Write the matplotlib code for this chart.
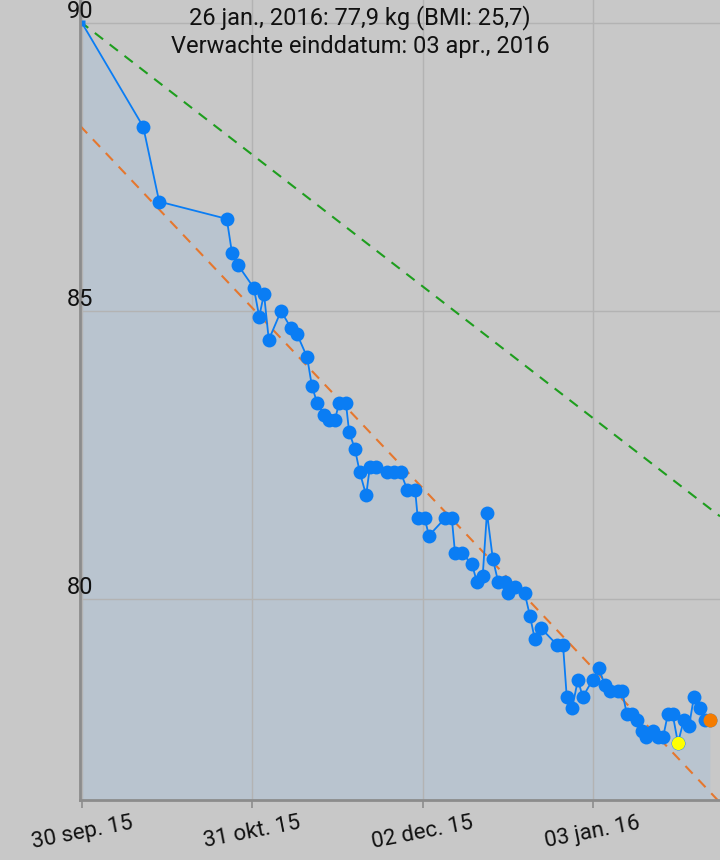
import matplotlib
matplotlib.use('Agg')
import matplotlib.pyplot as plt
import numpy as np

plt.rcParams['font.family'] = ['Roboto', 'DejaVu Sans']

# days after 30 sep 2015, weight in kg
days = [0.0, 11.5, 14.5, 27.2, 28.2, 29.3, 32.3, 33.3, 34.2, 35.1,
        37.4, 39.3, 40.4, 42.3, 43.2, 44.2, 45.5, 46.4, 47.5, 48.3,
        49.6, 50.2, 51.3, 52.2, 53.4, 54.1, 55.2, 57.3, 58.6, 59.9,
        61.1, 62.6, 63.1, 64.4, 65.2, 68.2, 69.5, 70.1, 71.4, 73.3,
        74.2, 75.3, 76.1, 77.2, 78.2, 79.5, 80.0, 81.4, 83.2, 84.2,
        85.1, 86.2, 89.3, 90.4, 91.1, 92.1, 93.2, 94.1, 96.0, 97.1,
        98.3, 99.2, 100.7, 101.5, 102.4, 103.3, 104.3, 105.2, 106.0, 107.3,
        108.2, 109.2, 110.1, 111.0, 112.0, 113.1, 114.1, 115.0, 116.1, 117.1,
        118.0]
weights = [90.0, 88.2, 86.9, 86.6, 86.0, 85.8, 85.4, 84.9, 85.3, 84.5,
           85.0, 84.7, 84.6, 84.2, 83.7, 83.4, 83.2, 83.1, 83.1, 83.4,
           83.4, 82.9, 82.6, 82.2, 81.8, 82.3, 82.3, 82.2, 82.2, 82.2,
           81.9, 81.9, 81.4, 81.4, 81.1, 81.4, 81.4, 80.8, 80.8, 80.6,
           80.3, 80.4, 81.5, 80.7, 80.3, 80.3, 80.1, 80.2, 80.1, 79.7,
           79.3, 79.5, 79.2, 79.2, 78.3, 78.1, 78.6, 78.3, 78.6, 78.8,
           78.5, 78.4, 78.4, 78.4, 78.0, 78.0, 77.9, 77.7, 77.6, 77.7,
           77.6, 77.6, 78.0, 78.0, 77.5, 77.9, 77.8, 78.3, 78.1, 77.9,
           77.9]

tick_days = [0, 32, 64, 96]
tick_labels = ['30 sep. 15', '31 okt. 15', '02 dec. 15', '03 jan. 16']
y_ticks = [80, 85, 90]

# goal line (0.5 kg per week) and trend line
goal_start, goal_rate = 90.0, 0.5 / 7
trend_start, trend_rate = 88.18, 0.0977

title1 = '26 jan., 2016: 77,9 kg (BMI: 25,7)'
title2 = 'Verwachte einddatum: 03 apr., 2016'

bg = '#c8c8c8'
blue = '#0a7df4'

fig = plt.figure(figsize=(7.2, 8.6), dpi=100)
fig.patch.set_facecolor(bg)
ax = fig.add_axes([80 / 720, 60 / 860, 640 / 720, 800 / 860])
ax.set_facecolor(bg)

xmin, xmax = -0.38, 119.9
ymin, ymax = 76.51, 90.40
ax.set_xlim(xmin, xmax)
ax.set_ylim(ymin, ymax)

ax.fill_between(days, weights, ymin, color='#b9c4cf', zorder=1, linewidth=0)

for t in tick_days:
    ax.axvline(t, color='#b3b3b3', lw=1, zorder=1.5)
for v in y_ticks:
    ax.axhline(v, color='#b3b3b3', lw=1, zorder=1.5)

xx = np.array([xmin, xmax])
ax.plot(xx, goal_start - goal_rate * xx, '--', color='#1e9e1e', lw=1.5,
        dashes=(5, 4), zorder=2)
ax.plot(xx, trend_start - trend_rate * xx, '--', color='#e5772e', lw=1.5,
        dashes=(5, 4), zorder=2)

ax.plot(days, weights, color=blue, lw=1.3, zorder=3)
ax.plot(days[1:], weights[1:], 'o', color=blue, ms=10, mec='none', zorder=4)
ax.plot(days[:1], weights[:1], 's', color=blue, ms=4, mec='none', zorder=4)

i_min = int(np.argmin(weights))
ax.plot(days[i_min], weights[i_min], 'o', color='#ffff00', ms=9.5, mec='none', zorder=5)
ax.plot(days[-1], weights[-1], 'o', color='#f57c00', ms=10, mec='none', zorder=5)

for s in ['top', 'right']:
    ax.spines[s].set_visible(False)
for s in ['left', 'bottom']:
    ax.spines[s].set_color('#8c8c8c')
    ax.spines[s].set_linewidth(2)
    ax.spines[s].set_zorder(6)

ax.set_xticks(tick_days)
ax.set_xticklabels(tick_labels, rotation=11, ha='center', fontsize=16, color='#111111')
ax.tick_params(axis='x', length=6, color='#8c8c8c', width=1.2, pad=3)
ax.set_yticks([])
for v in y_ticks:
    ax.text(0, v, str(v), transform=ax.get_yaxis_transform(), ha='center',
            va='bottom', fontsize=17, color='#111111', zorder=7)

fig.text(0.5, 1 - 18 / 860, title1, ha='center', va='center', fontsize=17, color='#111111')
fig.text(0.5, 1 - 47 / 860, title2, ha='center', va='center', fontsize=17, color='#111111')

fig.savefig('out.png', dpi=100, facecolor=bg)
